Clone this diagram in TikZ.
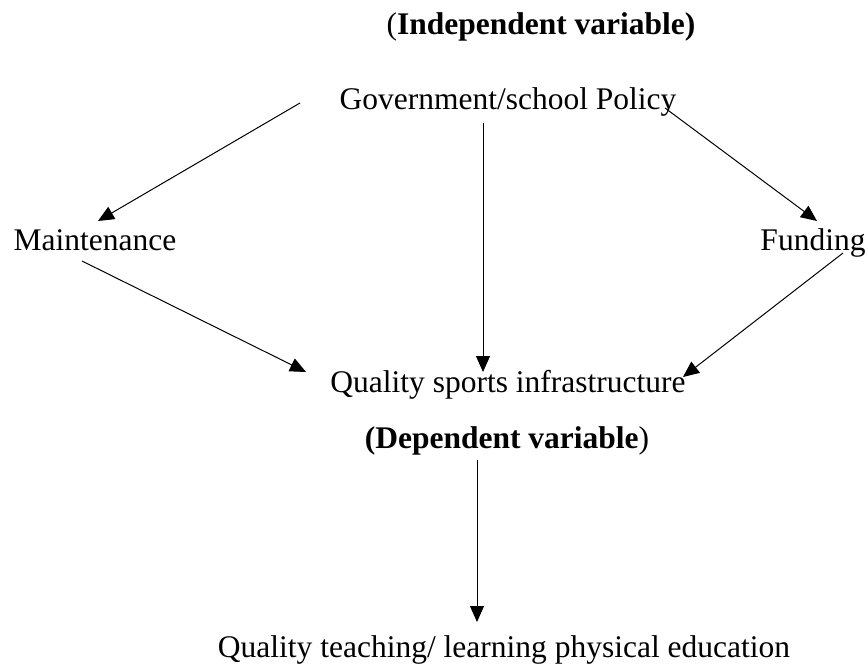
\documentclass[tikz,border=0pt]{standalone}
\usepackage{fontspec}
\setmainfont{Liberation Serif}
\usetikzlibrary{arrows.meta}
\begin{document}
\begin{tikzpicture}[x=1pt,y=-1pt,
  lbl/.style={anchor=base,inner sep=0pt,font=\fontsize{31.5pt}{36pt}\selectfont},
  conn/.style={line width=1pt,-{Triangle[length=16pt,width=14pt]}}]
\useasboundingbox (0,0) rectangle (868,669);
\node[lbl] (indep) at (541,35) {(\textbf{Independent variable)}};
\node[lbl] (gov) at (508,110) {Government/school Policy};
\node[lbl] (maint) at (95,250) {Maintenance};
\node[lbl] (fund) at (813,250) {Funding};
\node[lbl] (qsi) at (508,392) {Quality sports infrastructure};
\node[lbl] (dep) at (507,448) {\textbf{(Dependent variable})};
\node[lbl] (teach) at (504,657) {Quality teaching/ learning physical education};
\coordinate (g1) at (300,103);
\coordinate (m1) at (98,221);
\coordinate (g2) at (483,123);
\coordinate (q2) at (483,372);
\coordinate (g3) at (665,108);
\coordinate (f3) at (817,221);
\coordinate (m4) at (82,261);
\coordinate (q4) at (306,372);
\coordinate (f5) at (843,253);
\coordinate (q5) at (683,377);
\coordinate (d6) at (477,460);
\coordinate (t6) at (477,622);
\draw[conn] (g1) -- (m1);
\draw[conn] (g2) -- (q2);
\draw[conn] (g3) -- (f3);
\draw[conn] (m4) -- (q4);
\draw[conn] (f5) -- (q5);
\draw[conn] (d6) -- (t6);
\end{tikzpicture}
\end{document}
